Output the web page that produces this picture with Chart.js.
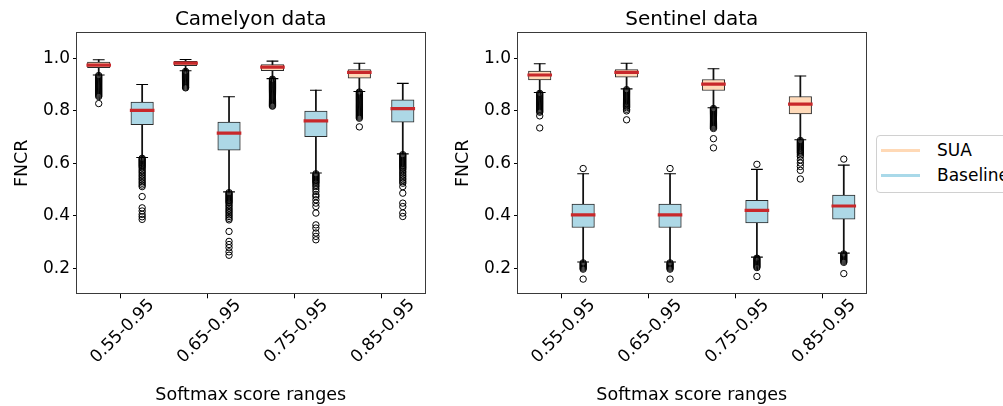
<!DOCTYPE html>
<html>
<head>
<meta charset="utf-8">
<script src="https://cdn.jsdelivr.net/npm/chart.js@4.4.0/dist/chart.umd.min.js"></script>
<style>
  body { margin: 0; width: 1003px; height: 406px; overflow: hidden; position: relative; background: #fff; font-family: "DejaVu Sans", sans-serif; }
  canvas { position: absolute; top: 0; }
  #camelyon { left: 0; }
  #sentinel { left: 441px; }
  #legend { position: absolute; left: 876px; top: 135px; width: 150px; height: 56px; border: 1px solid #d0d0d0; border-radius: 4px; background: #fff; }
  .row { position: absolute; left: 4px; height: 20px; font-size: 17px; color: #000; white-space: nowrap; }
  .row span.ln { position: absolute; left: 0; top: 9px; width: 39px; height: 3px; }
  .row span.tx { position: absolute; left: 56px; top: 0; line-height: 20px; }
</style>
</head>
<body>
<canvas id="camelyon" width="440" height="406"></canvas>
<canvas id="sentinel" width="440" height="406"></canvas>
<div id="legend">
  <div class="row" style="top:4px"><span class="ln" style="background:#ffd9b6"></span><span class="tx">SUA</span></div>
  <div class="row" style="top:29px"><span class="ln" style="background:#a9d9e9"></span><span class="tx">Baseline</span></div>
</div>
<script>
////////// data //////////
const categories = ["0.55-0.95", "0.65-0.95", "0.75-0.95", "0.85-0.95"]
const yTicks = [0.2, 0.4, 0.6, 0.8, 1.0]

// each box: [lower whisker, q1, median, q3, upper whisker]
const camelyonSUA = [
  [0.937, 0.965, 0.975, 0.986, 0.995],
  [0.953, 0.973, 0.982, 0.989, 0.996],
  [0.923, 0.954, 0.967, 0.977, 0.990],
  [0.874, 0.925, 0.947, 0.958, 0.982]
]
const camelyonBaseline = [
  [0.622, 0.747, 0.802, 0.834, 0.901],
  [0.491, 0.650, 0.715, 0.757, 0.854],
  [0.563, 0.702, 0.762, 0.799, 0.879],
  [0.636, 0.757, 0.809, 0.842, 0.905]
]
const sentinelSUA = [
  [0.870, 0.918, 0.937, 0.952, 0.980],
  [0.884, 0.929, 0.947, 0.958, 0.982],
  [0.812, 0.878, 0.902, 0.920, 0.961],
  [0.690, 0.788, 0.826, 0.855, 0.933]
]
const sentinelBaseline = [
  [0.223, 0.355, 0.403, 0.444, 0.560],
  [0.223, 0.355, 0.403, 0.444, 0.560],
  [0.242, 0.372, 0.420, 0.459, 0.577],
  [0.257, 0.387, 0.437, 0.479, 0.593]
]

// outlier values per box
const camelyonSUAOut = [
  [0.935, 0.931, 0.927, 0.923, 0.919, 0.915, 0.911, 0.907, 0.903, 0.899, 0.895, 0.891, 0.887, 0.883, 0.879, 0.875, 0.871, 0.867, 0.863, 0.859, 0.855, 0.828],
  [0.951, 0.947, 0.943, 0.939, 0.935, 0.931, 0.927, 0.923, 0.919, 0.915, 0.911, 0.907, 0.903, 0.899, 0.895, 0.891, 0.888],
  [0.921, 0.917, 0.913, 0.909, 0.905, 0.901, 0.897, 0.893, 0.889, 0.885, 0.881, 0.877, 0.873, 0.869, 0.865, 0.861, 0.857, 0.853, 0.849, 0.845, 0.841, 0.837, 0.833, 0.829, 0.825, 0.821, 0.818],
  [0.872, 0.868, 0.864, 0.860, 0.856, 0.852, 0.848, 0.844, 0.840, 0.836, 0.832, 0.828, 0.824, 0.820, 0.816, 0.812, 0.808, 0.804, 0.800, 0.796, 0.792, 0.788, 0.784, 0.780, 0.776, 0.772, 0.739]
]
const camelyonBaselineOut = [
  [0.619, 0.615, 0.611, 0.607, 0.603, 0.599, 0.595, 0.591, 0.587, 0.582, 0.575, 0.569, 0.563, 0.556, 0.550, 0.543, 0.537, 0.530, 0.524, 0.517, 0.511, 0.473, 0.430, 0.418, 0.405, 0.396, 0.386],
  [0.488, 0.484, 0.480, 0.476, 0.472, 0.468, 0.464, 0.460, 0.456, 0.452, 0.448, 0.441, 0.435, 0.428, 0.422, 0.416, 0.410, 0.403, 0.397, 0.390, 0.384, 0.340, 0.302, 0.290, 0.278, 0.262, 0.249],
  [0.560, 0.556, 0.552, 0.548, 0.544, 0.540, 0.536, 0.532, 0.528, 0.524, 0.517, 0.511, 0.502, 0.492, 0.480, 0.473, 0.461, 0.448, 0.435, 0.410, 0.365, 0.353, 0.334, 0.321, 0.308],
  [0.633, 0.629, 0.625, 0.621, 0.617, 0.613, 0.609, 0.605, 0.601, 0.597, 0.593, 0.589, 0.585, 0.581, 0.576, 0.569, 0.563, 0.556, 0.550, 0.543, 0.537, 0.530, 0.524, 0.511, 0.486, 0.448, 0.435, 0.410, 0.397]
]
const sentinelSUAOut = [
  [0.867, 0.863, 0.859, 0.855, 0.851, 0.847, 0.843, 0.839, 0.835, 0.831, 0.827, 0.823, 0.819, 0.815, 0.811, 0.807, 0.803, 0.799, 0.795, 0.781, 0.735],
  [0.881, 0.877, 0.873, 0.869, 0.865, 0.861, 0.857, 0.853, 0.849, 0.845, 0.841, 0.837, 0.833, 0.829, 0.825, 0.821, 0.817, 0.812, 0.806, 0.800, 0.766],
  [0.809, 0.805, 0.801, 0.797, 0.793, 0.789, 0.785, 0.781, 0.777, 0.773, 0.769, 0.765, 0.761, 0.757, 0.753, 0.749, 0.745, 0.741, 0.737, 0.733, 0.694, 0.659],
  [0.687, 0.683, 0.679, 0.675, 0.671, 0.667, 0.663, 0.659, 0.655, 0.651, 0.647, 0.643, 0.639, 0.632, 0.626, 0.613, 0.601, 0.588, 0.573, 0.540]
]
const sentinelBaselineOut = [
  [0.580, 0.220, 0.216, 0.212, 0.208, 0.204, 0.200, 0.196, 0.158],
  [0.580, 0.220, 0.216, 0.212, 0.208, 0.204, 0.200, 0.196, 0.158],
  [0.596, 0.238, 0.234, 0.230, 0.226, 0.222, 0.218, 0.214, 0.210, 0.206, 0.202, 0.168],
  [0.616, 0.254, 0.250, 0.246, 0.242, 0.238, 0.234, 0.230, 0.226, 0.222, 0.179]
]

const SUA_COLOR = "#ffdab9"
const BASE_COLOR = "#add8e6"
const MEDIAN_COLOR = "#c8282b"

Chart.defaults.font.family = "'DejaVu Sans', sans-serif"
Chart.defaults.color = "#000"

//////// frame around the plotting area (all four spines) ////////
const framePlugin = {
    id: "frame",
    afterDraw(chart) {
        const a = chart.chartArea
        const c = chart.ctx
        c.save()
        c.strokeStyle = "#3a3a3a"
        c.lineWidth = 1
        c.strokeRect(Math.round(a.left) - 0.5, Math.round(a.top) + 0.5, Math.round(a.right - a.left) + 1, Math.round(a.bottom - a.top) - 1)
        c.restore()
    }
}

//////// turn the box stats into datasets ////////
let buildDatasets = (sua, base, suaOut, baseOut) => {
    let whiskers = []
    let caps = []
    let medians = []
    let outliers = []
    let suaBoxes = []
    let baseBoxes = []
    let groups = [[sua, suaOut, suaBoxes, -0.25], [base, baseOut, baseBoxes, 0.25]]
    for (let g of groups) {
        for (let i = 0; i < categories.length; i++) {
            let x = i + 1 + g[3]
            let s = g[0][i]
            whiskers.push({x: x, y: [s[0], s[4]]})
            caps.push({x: x, y: s[0]}, {x: x, y: s[4]})
            medians.push({x: x, y: s[2]})
            g[2].push({x: x, y: [s[1], s[3]]})
            for (let v of g[1][i]) outliers.push({x: x, y: v})
        }
    }
    return [
        {type: "scatter", label: "outliers", data: outliers, order: 0, pointStyle: "circle", radius: 3.2,
            borderColor: "#000", borderWidth: 1, backgroundColor: "rgba(0,0,0,0)"},
        {type: "scatter", label: "medians", data: medians, order: 1, pointStyle: "line", radius: 12.3,
            borderColor: MEDIAN_COLOR, borderWidth: 3.2},
        {type: "scatter", label: "caps", data: caps, order: 2, pointStyle: "line", radius: 5.9,
            borderColor: "#000", borderWidth: 1.1},
        {type: "bar", label: "SUA", data: suaBoxes, order: 3, grouped: false, barThickness: 22.5,
            backgroundColor: SUA_COLOR, borderColor: "#2b2b2b", borderWidth: 1, borderSkipped: false},
        {type: "bar", label: "Baseline", data: baseBoxes, order: 3, grouped: false, barThickness: 22.5,
            backgroundColor: BASE_COLOR, borderColor: "#2b2b2b", borderWidth: 1, borderSkipped: false},
        {type: "bar", label: "whiskers", data: whiskers, order: 5, grouped: false, barThickness: 1.1,
            backgroundColor: "#111", borderWidth: 0}
    ]
}

let makeChart = (canvasId, title, sua, base, suaOut, baseOut) => {
    return new Chart(document.getElementById(canvasId), {
        type: "scatter",
        data: {datasets: buildDatasets(sua, base, suaOut, baseOut)},
        plugins: [framePlugin],
        options: {
            responsive: false,
            animation: false,
            devicePixelRatio: 1,
            layout: {padding: {left: 0, right: 14, top: 0, bottom: 0}},
            plugins: {
                legend: {display: false},
                tooltip: {enabled: false},
                title: {display: true, text: title, fullSize: false, font: {size: 20, weight: "normal"},
                    color: "#000", padding: {top: 8, bottom: 0.3}}
            },
            scales: {
                x: {
                    type: "linear",
                    min: 0.5,
                    max: 4.5,
                    offset: false,
                    afterBuildTicks: (scale) => { scale.ticks = categories.map((c, i) => ({value: i + 1})) },
                    afterFit: (scale) => { scale.height = 111.7 },
                    ticks: {
                        callback: (v) => categories[v - 1],
                        minRotation: 45,
                        maxRotation: 45,
                        labelOffset: 31,
                        padding: -3,
                        autoSkip: false,
                        font: {size: 17},
                        color: "#000"
                    },
                    grid: {display: true, drawOnChartArea: false, drawTicks: true, tickLength: 4, tickColor: "#000", offset: false},
                    border: {display: false},
                    title: {display: true, text: "Softmax score ranges", font: {size: 17.5}, color: "#000", padding: {top: 0, bottom: 0.5}}
                },
                y: {
                    min: 0.1,
                    max: 1.1,
                    beginAtZero: false,
                    afterBuildTicks: (scale) => { scale.ticks = yTicks.map(v => ({value: v})) },
                    afterFit: (scale) => { scale.width = 77 },
                    ticks: {callback: (v) => v.toFixed(1), font: {size: 17}, color: "#000", padding: 3},
                    grid: {display: true, drawOnChartArea: false, drawTicks: true, tickLength: 4, tickColor: "#000"},
                    border: {display: false},
                    title: {display: true, text: "FNCR", font: {size: 17.5}, color: "#000", padding: {top: 12, bottom: 0}}
                }
            }
        }
    })
}

const camelyonChart = makeChart("camelyon", "Camelyon data", camelyonSUA, camelyonBaseline, camelyonSUAOut, camelyonBaselineOut)
const sentinelChart = makeChart("sentinel", "Sentinel data", sentinelSUA, sentinelBaseline, sentinelSUAOut, sentinelBaselineOut)
</script>
</body>
</html>
